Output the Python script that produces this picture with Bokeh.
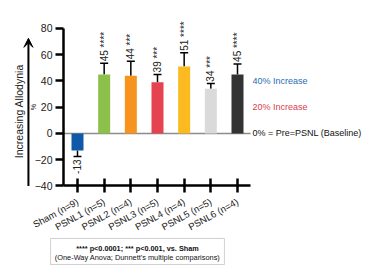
import numpy as np
from bokeh.plotting import figure
from bokeh.models import (ColumnDataSource, LabelSet, Label, Arrow, VeeHead,
                          FixedTicker, Range1d, BoxAnnotation, LinearAxis)
from bokeh.core.properties import value
from bokeh.embed import file_html
from bokeh.resources import INLINE

# Groups, mean change (%) and SEM for each group
groups = ["Sham (n=9)", "PSNL1 (n=5)", "PSNL2 (n=4)", "PSNL3 (n=5)",
          "PSNL4 (n=4)", "PSNL5 (n=5)", "PSNL6 (n=4)"]
means = [-13, 45, 44, 39, 51, 34, 45]
sems = [4.5, 8.5, 11, 6, 10.5, 4, 8]
stars = ["", "****", "***", "***", "****", "***", "****"]
colors = ["#0f5aa8", "#8cc04b", "#f7941d", "#e5434f", "#fbbb20", "#dadada", "#333333"]
y_ticks = [-40, -20, 0, 20, 40, 60, 80]

FONT = "Liberation Sans"

# extent of the plotted axes (data units)
X_LO, X_HI = -0.525, 6.49
Y_LO, Y_HI = -40, 80

xs = np.arange(len(groups))
means_a = np.array(means, dtype=float)
sems_a = np.array(sems, dtype=float)
caps = means_a + np.sign(means_a) * sems_a
labels = [f"{m} {s}".strip() for m, s in zip(means, stars)]

src = ColumnDataSource(dict(x=xs, top=means_a, cap=caps, color=colors, label=labels,
                            cl=xs - 0.15, cr=xs + 0.15))

# the frame fills the whole canvas; the axes are pinned inside it
p = figure(width=377, height=275, x_range=Range1d(-2.8875, 11.25),
           y_range=Range1d(-108.19, 101.33), output_backend="svg",
           toolbar_location=None, x_axis_location=None, y_axis_location=None,
           min_border=0)
p.outline_line_color = None
p.grid.visible = False
p.background_fill_color = "white"

# zero baseline
p.segment(x0=[X_LO], y0=[0], x1=[X_HI], y1=[0], line_color="#8c8c8c", line_width=1.5)

# SEM whiskers (one-sided) and bars
p.segment(x0="x", y0="top", x1="x", y1="cap", source=src, line_color="black", line_width=1.5)
p.segment(x0="cl", y0="cap", x1="cr", y1="cap", source=src, line_color="black", line_width=1.5)
p.vbar(x="x", top="top", bottom=0, width=0.45, source=src, fill_color="color",
       line_color=None)

# value / significance labels along the whiskers
pos = [i for i, m in enumerate(means) if m >= 0]
neg = [i for i, m in enumerate(means) if m < 0]
src_pos = ColumnDataSource(dict(x=xs[pos], cap=caps[pos], label=[labels[i] for i in pos]))
src_neg = ColumnDataSource(dict(x=xs[neg], cap=caps[neg], label=[labels[i] for i in neg]))
p.add_layout(LabelSet(x="x", y="cap", text="label", source=src_pos, angle=np.pi / 2,
                      text_align="left", text_baseline="middle", y_offset=2,
                      text_font=value(FONT), text_font_size=value("10px"),
                      text_color="#222222"))
p.add_layout(LabelSet(x="x", y="cap", text="label", source=src_neg, angle=np.pi / 2,
                      text_align="right", text_baseline="middle", y_offset=-3,
                      text_font=value(FONT), text_font_size=value("10px"),
                      text_color="#222222"))

# axes
xaxis = LinearAxis(fixed_location=Y_LO, bounds=(X_LO, X_HI),
                   ticker=FixedTicker(ticks=list(xs)),
                   major_label_overrides={int(i): g for i, g in zip(xs, groups)},
                   major_label_orientation=0.5, major_tick_in=7, major_tick_out=7,
                   minor_tick_line_color=None, axis_line_width=2.5,
                   major_tick_line_width=2.5, major_label_standoff=8,
                   major_label_text_font_size="9.5px")
yaxis = LinearAxis(fixed_location=X_LO, bounds=(Y_LO, Y_HI),
                   ticker=FixedTicker(ticks=y_ticks), major_tick_in=0,
                   major_tick_out=8, minor_tick_line_color=None, axis_line_width=2.5,
                   major_tick_line_width=2.5, major_label_standoff=3,
                   major_label_text_font_size="10.5px")
for ax in (xaxis, yaxis):
    ax.major_label_text_font = FONT
    ax.major_label_text_color = "#222222"
    ax.axis_line_color = "black"
    ax.major_tick_line_color = "black"
p.add_layout(xaxis, "below")
p.add_layout(yaxis, "left")

# direction arrow and axis titles on the left
p.add_layout(Arrow(end=VeeHead(size=9, fill_color="black", line_color="black"),
                   x_start=-1.84, y_start=Y_LO, x_end=-1.84, y_end=72.5,
                   line_width=2, line_color="black"))
p.add_layout(Label(x=-2.21, y=17, text="Increasing Allodynia", angle=np.pi / 2,
                   text_align="center", text_baseline="middle", text_font=FONT,
                   text_font_size="10.5px", text_color="#222222"))
p.add_layout(Label(x=-1.66, y=20, text="%", angle=np.pi / 2, text_align="center",
                   text_baseline="middle", text_font=FONT, text_font_size="7px",
                   text_color="#222222"))

# reference levels on the right
for yv, txt, col in [(40, "40% Increase", "#2a6db4"), (20, "20% Increase", "#d8404f"),
                     (0, "0% = Pre=PSNL (Baseline)", "#111111")]:
    p.add_layout(Label(x=6.56, y=yv, text=txt, text_align="left", text_baseline="middle",
                       text_font=FONT, text_font_size="9px", text_color=col))

# statistics footnote
p.add_layout(BoxAnnotation(left=-1.01, right=5.51, bottom=-99.8, top=-80,
                           fill_color="white", fill_alpha=1, line_color="#666666",
                           line_width=1))
p.add_layout(Label(x=2.25, y=-87.3, text="**** p<0.0001; *** p<0.001, vs. Sham",
                   text_align="center", text_baseline="middle", text_font=FONT,
                   text_font_size="7.3px", text_font_style="bold", text_color="#111111"))
p.add_layout(Label(x=2.25, y=-94.3, text="(One-Way Anova; Dunnett's multiple comparisons)",
                   text_align="center", text_baseline="middle", text_font=FONT,
                   text_font_size="7.4px", text_color="#111111"))

open("out.html", "w").write(file_html(p, INLINE))
